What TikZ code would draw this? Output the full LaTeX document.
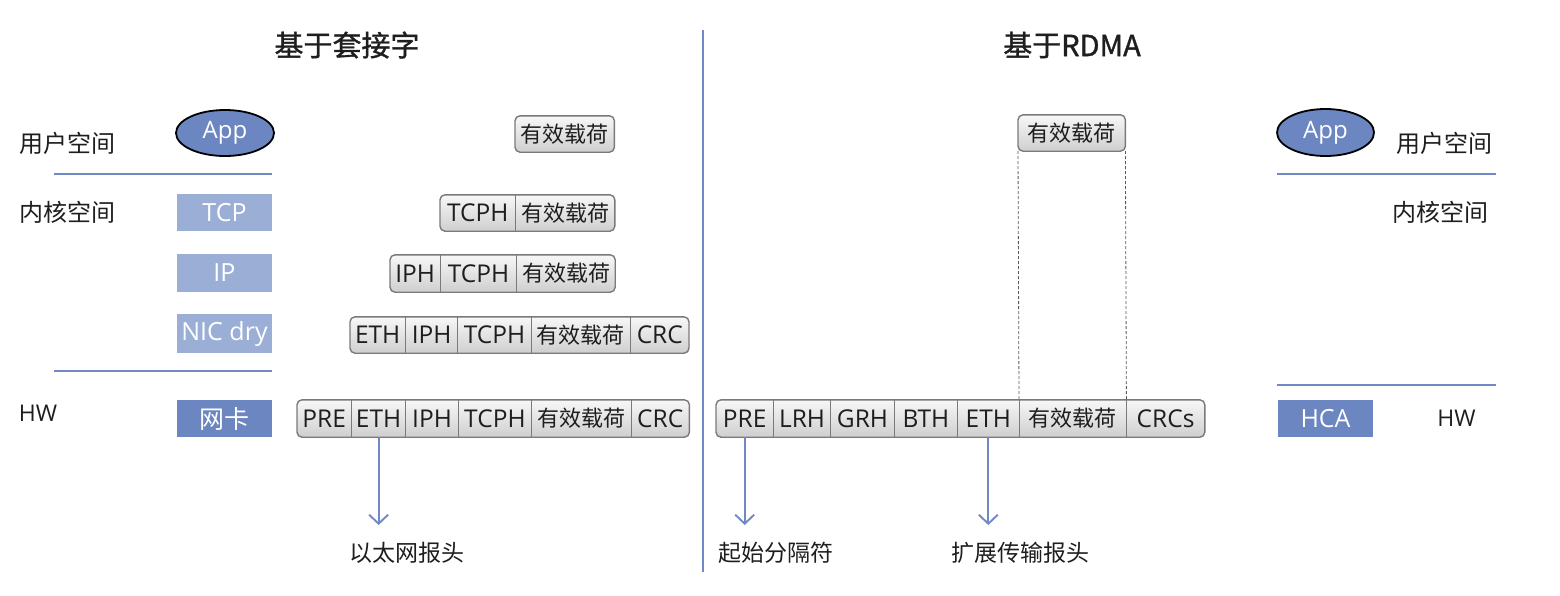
\documentclass[tikz,border=0pt]{standalone}
\usepackage{fontspec}
\setmainfont{Open Sans}
\newfontfamily\cjk{Noto Sans CJK SC}
\newfontfamily\cjkt[FakeBold=1.2]{Noto Sans CJK SC}
\usetikzlibrary{arrows.meta,fit,backgrounds,shapes.geometric}
\definecolor{dblue}{HTML}{6B86C0}
\definecolor{lblue}{HTML}{9AAED6}
\definecolor{lineblue}{HTML}{7089C4}
\definecolor{pktedge}{HTML}{7A7A7A}
\definecolor{txt}{HTML}{1E1E1E}
\begin{document}
\begin{tikzpicture}[x=1pt,y=-1pt,
  seg/.style={inner sep=0pt, minimum height=36pt, anchor=west, text=txt},
  lat/.style={font=\fontsize{24.5}{28}\selectfont},
  cj/.style={font=\cjk\fontsize{22}{26}\selectfont},
  pkt/.style={inner sep=0pt, draw=pktedge, line width=1.4pt, rounded corners=5pt, top color=gray!6, bottom color=gray!38},
  div/.style={draw=pktedge, line width=1pt},
  layer/.style={inner sep=0pt, minimum width=95pt, minimum height=37pt, text=white, font=\fontsize{25}{30}\selectfont},
  appnode/.style={ellipse, draw=black, line width=1.8pt, fill=dblue, minimum width=98pt, minimum height=46pt, inner sep=0pt, text=white, font=\fontsize{24}{28}\selectfont},
  sidelab/.style={text=txt, inner sep=0pt, font=\cjk\fontsize{24}{28}\selectfont},
  hwlab/.style={text=txt, inner sep=0pt, font=\fontsize{23}{28}\selectfont},
  sep/.style={draw=lineblue, line width=2pt},
  arr/.style={draw=lineblue, line width=1.9pt, -{Straight Barb[length=9pt,width=19pt]}},
  botlab/.style={text=txt, inner sep=0pt, font=\cjk\fontsize{23}{28}\selectfont},
  ttl/.style={text=txt, inner sep=0pt, font=\cjkt\fontsize{29}{34}\selectfont},
  dot/.style={draw=gray!70!black, line width=0.8pt, dash pattern=on 3pt off 2pt}
]
\useasboundingbox (0,0) rectangle (1560,595);

% titles and divider
\node[ttl] (t1) at (347,45) {基于套接字};
\node[ttl] (t2) at (1072,45) {基于RDMA};
\coordinate (dtop) at (703,30);
\coordinate (dbot) at (703,572);
\draw[draw=lineblue, line width=1.4pt] (dtop) -- (dbot);

% left side labels
\node[sidelab] (ul) at (67.5,143) {用户空间};
\node[sidelab] (kl) at (67.5,212) {内核空间};
\node[hwlab] (hl) at (38,413) {HW};
\draw[sep] (54,174) -- (272,174);
\draw[sep] (54,371) -- (272,371);

% left stack
\node[appnode] (app1) at (225,133) {App};
\node[layer, fill=lblue] (tcp) at (224.5,212.5) {TCP};
\node[layer, fill=lblue, minimum height=38pt] (ip) at (224.5,273) {IP};
\node[layer, fill=lblue, minimum height=39pt] (nic) at (224.5,333.5) {NIC dry};
\node[layer, fill=dblue] (wk) at (224.5,418.5) {\cjk 网卡};

% row 1
\node[seg,cj,minimum width=99pt] (r1a) at (515,134) {有效载荷};
\begin{scope}[on background layer]\node[pkt,fit=(r1a)] (r1) {};\end{scope}

% row 2
\node[seg,lat,minimum width=75pt] (r2a) at (440,213) {TCPH};
\node[seg,cj,minimum width=99pt] (r2b) at (r2a.east) {有效载荷};
\begin{scope}[on background layer]\node[pkt,fit=(r2a)(r2b)] (r2) {};\end{scope}
\draw[div] (r2a.north east) -- (r2a.south east);

% row 3
\node[seg,lat,minimum width=50pt,minimum height=37pt] (r3a) at (390,273.5) {IPH};
\node[seg,lat,minimum width=76pt,minimum height=37pt] (r3b) at (r3a.east) {TCPH};
\node[seg,cj,minimum width=98pt,minimum height=37pt] (r3c) at (r3b.east) {有效载荷};
\begin{scope}[on background layer]\node[pkt,fit=(r3a)(r3c)] (r3) {};\end{scope}
\draw[div] (r3a.north east) -- (r3a.south east);
\draw[div] (r3b.north east) -- (r3b.south east);

% row 4
\node[seg,lat,minimum width=55pt] (r4a) at (350,335) {ETH};
\node[seg,lat,minimum width=52pt] (r4b) at (r4a.east) {IPH};
\node[seg,lat,minimum width=73pt] (r4c) at (r4b.east) {TCPH};
\node[seg,cj,minimum width=99pt] (r4d) at (r4c.east) {有效载荷};
\node[seg,lat,minimum width=58pt] (r4e) at (r4d.east) {CRC};
\begin{scope}[on background layer]\node[pkt,fit=(r4a)(r4e)] (r4) {};\end{scope}
\foreach \n in {r4a,r4b,r4c,r4d}{\draw[div] (\n.north east) -- (\n.south east);}

% row 5
\node[seg,lat,minimum width=54pt,minimum height=37pt] (r5a) at (297,418.5) {PRE};
\node[seg,lat,minimum width=54pt,minimum height=37pt] (r5b) at (r5a.east) {ETH};
\node[seg,lat,minimum width=52pt,minimum height=37pt] (r5c) at (r5b.east) {IPH};
\node[seg,lat,minimum width=73pt,minimum height=37pt] (r5d) at (r5c.east) {TCPH};
\node[seg,cj,minimum width=99pt,minimum height=37pt] (r5e) at (r5d.east) {有效载荷};
\node[seg,lat,minimum width=58pt,minimum height=37pt] (r5f) at (r5e.east) {CRC};
\begin{scope}[on background layer]\node[pkt,fit=(r5a)(r5f)] (r5) {};\end{scope}
\foreach \n in {r5a,r5b,r5c,r5d,r5e}{\draw[div] (\n.north east) -- (\n.south east);}

% left arrow
\coordinate (ylev) at (0,525);
\coordinate (ea) at (r5b.south |- ylev);
\draw[arr] (r5b.south) -- (ea);
\node[botlab] (l1) at (407,553) {以太网报头};

% right payload
\node[seg,cj,minimum width=107pt] (rp) at (1018,133) {有效载荷};
\begin{scope}[on background layer]\node[pkt,fit=(rp)] (rpb) {};\end{scope}

% right row
\node[seg,lat,minimum width=57pt,minimum height=37pt] (b1) at (716,418.5) {PRE};
\node[seg,lat,minimum width=57pt,minimum height=37pt] (b2) at (b1.east) {LRH};
\node[seg,lat,minimum width=63pt,minimum height=37pt] (b3) at (b2.east) {GRH};
\node[seg,lat,minimum width=63pt,minimum height=37pt] (b4) at (b3.east) {BTH};
\node[seg,lat,minimum width=61pt,minimum height=37pt] (b5) at (b4.east) {ETH};
\node[seg,cj,minimum width=107pt,minimum height=37pt] (b6) at (b5.east) {有效载荷};
\node[seg,lat,minimum width=78pt,minimum height=37pt] (b7) at (b6.east) {CRCs};
\begin{scope}[on background layer]\node[pkt,fit=(b1)(b7)] (rrow) {};\end{scope}
\foreach \n in {b1,b2,b3,b4,b5,b6}{\draw[div] (\n.north east) -- (\n.south east);}

\draw[dot] (rp.south west) -- (b6.north west);
\draw[dot] (rp.south east) -- (b6.north east);

\coordinate (eb) at (b1.south |- ylev);
\coordinate (ec) at (b5.south |- ylev);
\draw[arr] (b1.south) -- (eb);
\draw[arr] (b5.south) -- (ec);
\node[botlab] (l2) at (776,553) {起始分隔符};
\node[botlab] (l3) at (1020,553) {扩展传输报头};

% right stack
\node[appnode, minimum width=97pt, minimum height=47pt] (app2) at (1325.5,132.5) {App};
\node[sidelab] (ur) at (1444.5,143) {用户空间};
\node[sidelab] (kr) at (1440,212) {内核空间};
\draw[sep] (1277,174) -- (1496,174);
\draw[sep] (1277,385) -- (1496,385);
\node[layer, fill=dblue] (hca) at (1325.5,418.5) {HCA};
\node[hwlab] (hr) at (1456.5,418) {HW};
\end{tikzpicture}
\end{document}
